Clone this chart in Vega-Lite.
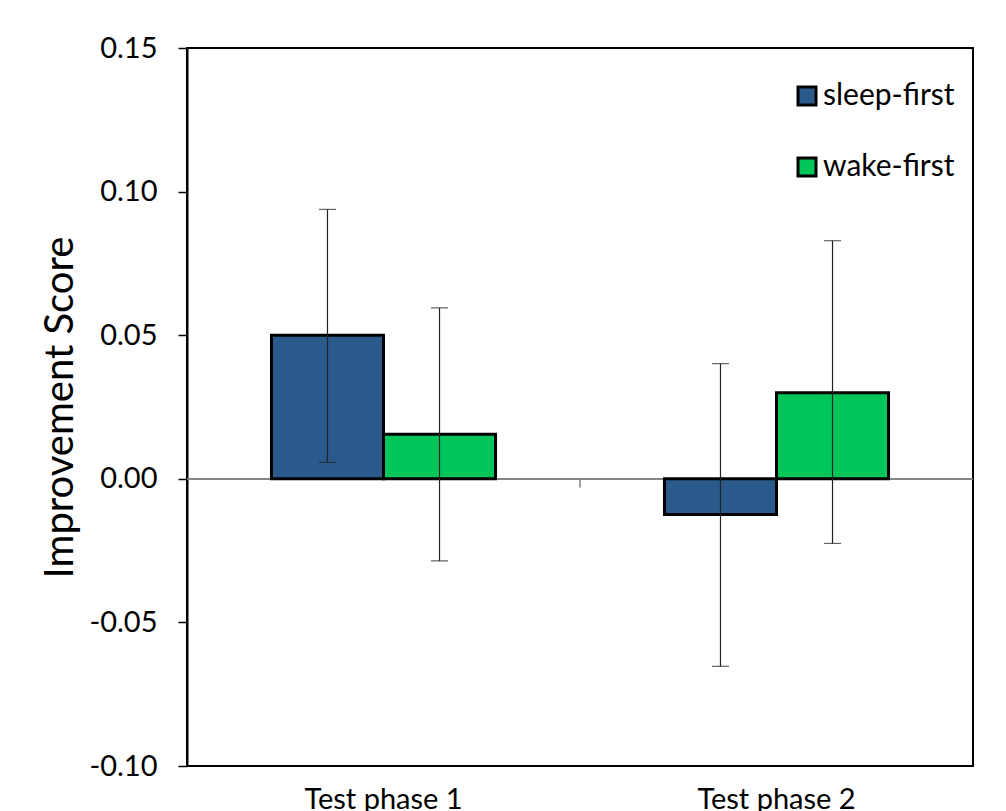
{
  "$schema": "https://vega.github.io/schema/vega-lite/v6.json",
  "autosize": {"type": "none"},
  "width": 786,
  "height": 718,
  "padding": {"left": 187, "top": 48, "right": 33, "bottom": 45},
  "background": "white",
  "config": {
    "font": "Lato",
    "view": {"stroke": "black", "strokeWidth": 2},
    "axis": {"grid": false, "labelColor": "black", "titleColor": "black"}
  },
  "data": {
    "values": [
      {"phase": "Test phase 1", "group": "sleep-first", "mean": 0.050, "lo": 0.0057, "hi": 0.0938},
      {"phase": "Test phase 1", "group": "wake-first", "mean": 0.0155, "lo": -0.0286, "hi": 0.0595},
      {"phase": "Test phase 2", "group": "sleep-first", "mean": -0.0124, "lo": -0.0653, "hi": 0.0401},
      {"phase": "Test phase 2", "group": "wake-first", "mean": 0.030, "lo": -0.0225, "hi": 0.0829}
    ]
  },
  "encoding": {
    "x": {
      "field": "phase", "type": "nominal",
      "scale": {"paddingInner": 0, "paddingOuter": 0},
      "axis": {"title": null, "labelAngle": 0, "ticks": false, "domain": false, "labelFontSize": 29, "labelPadding": 19}
    }
  },
  "layer": [
    {
      "mark": {"type": "rule", "color": "#808080", "strokeWidth": 1.5},
      "encoding": {"y": {"datum": 0, "type": "quantitative"}, "x": null}
    },
    {
      "mark": {"type": "rule", "color": "#808080", "strokeWidth": 1.5},
      "transform": [{"filter": "datum.phase === 'Test phase 2' && datum.group === 'sleep-first'"}],
      "encoding": {
        "x": {"field": "phase", "type": "nominal", "bandPosition": 0},
        "y": {"datum": 0, "type": "quantitative"},
        "y2": {"datum": -0.003}
      }
    },
    {
      "mark": {"type": "bar", "stroke": "black", "strokeWidth": 3},
      "encoding": {
        "xOffset": {"field": "group", "type": "nominal", "scale": {"paddingInner": 0, "paddingOuter": 0.754}},
        "y": {
          "field": "mean", "type": "quantitative",
          "scale": {"domain": [-0.1, 0.15], "nice": false, "zero": false},
          "axis": {
            "title": "Improvement Score", "titleFontSize": 40, "titleFontWeight": "normal", "titlePadding": 8,
            "values": [-0.1, -0.05, 0, 0.05, 0.1, 0.15], "labelExpr": "replace(format(datum.value, '.2f'), '\u2212', '-')",
            "labelFontSize": 29, "labelPadding": 21, "tickSize": 9, "tickColor": "black", "tickWidth": 1.5,
            "domainColor": "black", "domainWidth": 2
          }
        },
        "y2": {"datum": 0},
        "color": {
          "field": "group", "type": "nominal",
          "scale": {"domain": ["sleep-first", "wake-first"], "range": ["#2A5A8B", "#00C65A"]},
          "legend": {
            "title": null, "orient": "none", "legendX": 605, "legendY": 33, "padding": 0,
            "symbolType": "square", "symbolSize": 324, "symbolStrokeColor": "black", "symbolStrokeWidth": 3,
            "symbolOpacity": 1, "labelFontSize": 30, "labelColor": "black", "labelOffset": 1, "rowPadding": 41
          }
        }
      }
    },
    {
      "mark": {"type": "rule", "color": "#222222", "strokeWidth": 1.2},
      "encoding": {
        "xOffset": {"field": "group", "type": "nominal", "scale": {"paddingInner": 0, "paddingOuter": 0.754}},
        "y": {"field": "lo", "type": "quantitative"},
        "y2": {"field": "hi"}
      }
    },
    {
      "mark": {"type": "tick", "color": "#222222", "thickness": 1.2, "size": 17, "orient": "horizontal"},
      "encoding": {
        "xOffset": {"field": "group", "type": "nominal", "scale": {"paddingInner": 0, "paddingOuter": 0.754}},
        "y": {"field": "lo", "type": "quantitative"}
      }
    },
    {
      "mark": {"type": "tick", "color": "#222222", "thickness": 1.2, "size": 17, "orient": "horizontal"},
      "encoding": {
        "xOffset": {"field": "group", "type": "nominal", "scale": {"paddingInner": 0, "paddingOuter": 0.754}},
        "y": {"field": "hi", "type": "quantitative"}
      }
    }
  ]
}
